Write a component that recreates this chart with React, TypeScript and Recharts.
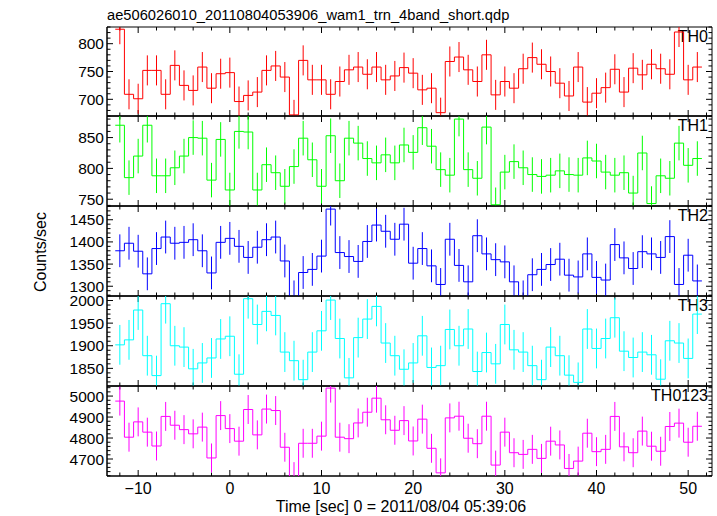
import React from "react";
import { ComposedChart, Line, ErrorBar, XAxis, YAxis, ReferenceArea } from "recharts";

// bin centres, seconds since 05:39:06
const times = [
  -12, -11, -10, -9, -8, -7, -6, -5, -4, -3, -2, -1, 0, 1, 2, 3, 4, 5, 6, 7, 8, 9,
  10, 11, 12, 13, 14, 15, 16, 17, 18, 19, 20, 21, 22, 23, 24, 25, 26, 27, 28, 29,
  30, 31, 32, 33, 34, 35, 36, 37, 38, 39, 40, 41, 42, 43, 44, 45, 46, 47, 48, 49, 50, 51,
];

const th0 = [
  826, 709, 701, 752, 752, 709, 761, 725, 716, 758, 720, 746, 748, 696, 707, 713, 752, 760, 740, 672,
  770, 735, 735, 709, 732, 753, 758, 745, 758, 735,
  742, 757, 747, 717, 720, 676, 768, 776, 753, 732, 780, 708, 732, 720, 755, 775, 763, 750, 729, 706,
  758, 695, 711, 721, 754, 713, 756, 744, 763, 755, 745, 821, 735, 758,
];
const th1 = [
  870, 785, 820, 870, 788, 788, 801, 820, 850, 849, 781, 847, 765, 860, 859, 765, 806, 793, 771, 803,
  849, 814, 771, 853, 780, 849, 841, 816, 809, 822,
  809, 838, 826, 866, 836, 798, 789, 880, 798, 784, 867, 741, 794, 811, 801, 790, 787, 789, 796, 790,
  789, 817, 812, 794, 789, 793, 760, 825, 743, 788, 784, 841, 805, 816,
];
const th2 = [
  1380, 1397, 1379, 1328, 1385, 1411, 1397, 1399, 1405, 1380, 1330, 1399, 1408, 1390, 1365, 1388, 1405, 1411, 1357, 1276,
  1331, 1338, 1368, 1474, 1376, 1367, 1356, 1401, 1438, 1424,
  1406, 1440, 1352, 1385, 1346, 1304, 1406, 1347, 1310, 1414, 1373, 1360, 1355, 1310, 1276, 1326, 1338, 1349, 1361, 1325,
  1321, 1373, 1320, 1314, 1394, 1364, 1340, 1378, 1373, 1365, 1412, 1304, 1370, 1312,
];
const th3 = [
  1902, 1913, 1979, 1878, 1834, 1993, 1900, 1897, 1849, 1862, 1873, 1915, 1921, 1837, 2004, 1947, 1976, 1967, 1886, 1867,
  1825, 1886, 1933, 2001, 1916, 1829, 1918, 1959, 1987, 1906,
  1878, 1848, 1862, 1922, 1852, 1856, 1936, 1900, 1937, 1843, 1885, 1860, 1947, 1891, 1886, 1856, 1825, 1897, 1878, 1835,
  1819, 1937, 1894, 1916, 1962, 1888, 1874, 1886, 1880, 1826, 1911, 1906, 1872, 1970,
];
const th0123 = [
  4976, 4804, 4877, 4828, 4762, 4903, 4861, 4840, 4820, 4852, 4705, 4907, 4845, 4785, 4936, 4815, 4938, 4931, 4756, 4616,
  4775, 4775, 4809, 5038, 4804, 4797, 4872, 4923, 4990, 4887,
  4837, 4883, 4786, 4890, 4751, 4634, 4896, 4904, 4799, 4773, 4904, 4671, 4828, 4730, 4722, 4746, 4703, 4785, 4767, 4655,
  4690, 4823, 4735, 4746, 4903, 4758, 4730, 4833, 4761, 4737, 4855, 4871, 4780, 4856,
];

// 1-sigma error bar half lengths
const th0Err = 27;
const th1Err = 28;
const th2Err = 37;
const th3Err = 44;
const th0123Err = 69;

const xMajorTicks = [-10, 0, 10, 20, 30, 40, 50];
const binWidth = 1;

const FONT = "'Liberation Sans', Arial, Helvetica, sans-serif";
const LEFT = 107;
const RIGHT = 712;
const MT = 12;
const YW = 50;
const X_DOMAIN: [number, number] = [-13.4, 52.6];

const range = (lo: number, hi: number, step: number) => {
  const out: number[] = [];
  for (let v = Math.ceil(lo / step) * step; v <= hi; v += step) out.push(v);
  return out;
};

const panels = [
  { name: "TH0", values: th0, err: th0Err, color: "#ff0000", domain: [670, 830], major: 50, minor: 10, top: 27, bottom: 116 },
  { name: "TH1", values: th1, err: th1Err, color: "#00ff00", domain: [739, 885], major: 50, minor: 10, top: 116, bottom: 206 },
  { name: "TH2", values: th2, err: th2Err, color: "#0000ff", domain: [1278, 1481], major: 50, minor: 10, top: 206, bottom: 296 },
  { name: "TH3", values: th3, err: th3Err, color: "#00ffff", domain: [1811, 2010], major: 50, minor: 10, top: 296, bottom: 386 },
  { name: "TH0123", values: th0123, err: th0123Err, color: "#ff00ff", domain: [4619, 5048], major: 100, minor: 20, top: 386, bottom: 476 },
];

const fmt = (v: number) => (v < 0 ? "\u2212" + -v : String(v));

function Panel({ p, last }: { p: (typeof panels)[number]; last: boolean }) {
  const h = p.bottom - p.top;
  const w = RIGHT - LEFT;
  const mb = last ? 40 : 12;
  const xh = last ? 30 : 1;
  // step line drawn through the bin edges
  const edges = times.map((t, i) => ({ x: t - binWidth / 2, v: p.values[i] }));
  edges.push({ x: times[times.length - 1] + binWidth / 2, v: p.values[p.values.length - 1] });
  const centres = times.map((t, i) => ({ x: t, v: p.values[i], e: p.err }));
  const yTicks = range(p.domain[0], p.domain[1], p.minor);
  const xTicks = range(X_DOMAIN[0], X_DOMAIN[1], 2);

  const yTick = (props: any) => {
    const { y, payload } = props;
    const v = payload.value;
    const isMajor = v % p.major === 0;
    const len = isMajor ? 6 : 3.5;
    return (
      <g>
        <line x1={LEFT} x2={LEFT + len} y1={y} y2={y} stroke="#000" />
        <line x1={RIGHT} x2={RIGHT - len} y1={y} y2={y} stroke="#000" />
        {isMajor && (
          <text x={LEFT - 3} y={y} dominantBaseline="central" textAnchor="end" fontSize={15.5} fontFamily={FONT} fill="#000">
            {v}
          </text>
        )}
      </g>
    );
  };

  const xTick = (props: any) => {
    const { x, payload } = props;
    const v = payload.value;
    const isMajor = xMajorTicks.includes(v);
    const len = isMajor ? 6 : 3.5;
    return (
      <g>
        <line x1={x} x2={x} y1={MT + h} y2={MT + h - len} stroke="#000" />
        <line x1={x} x2={x} y1={MT} y2={MT + len} stroke="#000" />
        {last && isMajor && (
          <text x={x} y={MT + h + 18} textAnchor="middle" fontSize={16} fontFamily={FONT} fill="#000">
            {fmt(v)}
          </text>
        )}
      </g>
    );
  };

  return (
    <>
      {/* frame, ticks and labels */}
      <div style={{ position: "absolute", left: 0, top: p.top - MT }}>
        <ComposedChart
          width={717}
          height={h + MT + mb}
          margin={{ top: MT, bottom: mb - xh, left: LEFT - YW, right: 717 - RIGHT }}
        >
          <XAxis
            dataKey="x"
            type="number"
            domain={X_DOMAIN}
            allowDataOverflow
            ticks={xTicks}
            interval={0}
            height={xh}
            tickSize={0}
            tickMargin={0}
            tickLine={false}
            axisLine={{ stroke: "#000" }}
            tick={xTick}
          />
          <YAxis
            type="number"
            domain={p.domain}
            allowDataOverflow
            ticks={yTicks}
            interval={0}
            width={YW}
            tickSize={0}
            tickMargin={0}
            tickLine={false}
            axisLine={{ stroke: "#000" }}
            tick={yTick}
          />
          <Line data={centres} dataKey="v" stroke="none" dot={false} activeDot={false} isAnimationActive={false} />
          <ReferenceArea
            x1={X_DOMAIN[0]}
            x2={X_DOMAIN[1]}
            y1={p.domain[0]}
            y2={p.domain[1]}
            stroke="#000"
            strokeWidth={1}
            fill="none"
            fillOpacity={0}
          />
        </ComposedChart>
        <div
          style={{
            position: "absolute",
            right: 717 - RIGHT + 4,
            top: MT + 1,
            fontFamily: FONT,
            fontSize: 16,
            color: "#000",
          }}
        >
          {p.name}
        </div>
      </div>
      {/* data, clipped to the plot box */}
      <div style={{ position: "absolute", left: LEFT, top: p.top, width: w, height: h, overflow: "hidden" }}>
        <ComposedChart width={w} height={h} margin={{ top: 0, bottom: 0, left: 0, right: 0 }}>
          <XAxis hide dataKey="x" type="number" domain={X_DOMAIN} allowDataOverflow />
          <YAxis hide type="number" domain={p.domain} allowDataOverflow />
          <Line
            data={edges}
            dataKey="v"
            type="stepAfter"
            stroke={p.color}
            strokeWidth={1}
            dot={false}
            activeDot={false}
            isAnimationActive={false}
          />
          <Line data={centres} dataKey="v" stroke="none" dot={false} activeDot={false} isAnimationActive={false}>
            <ErrorBar dataKey="e" direction="y" width={0} stroke={p.color} strokeWidth={1} isAnimationActive={false} />
          </Line>
        </ComposedChart>
      </div>
    </>
  );
}

export default function App() {
  return (
    <div style={{ position: "absolute", left: 0, top: 0, width: 717, height: 516, background: "#fff" }}>
      {panels.map((p, i) => (
        <Panel key={p.name} p={p} last={i === panels.length - 1} />
      ))}
      <svg width={717} height={516} style={{ position: "absolute", left: 0, top: 0, pointerEvents: "none" }}>
        <text x={LEFT} y={20} fontSize={14.7} fontFamily={FONT} fill="#000">
          ae506026010_20110804053906_wam1_trn_4band_short.qdp
        </text>
        <text
          x={46}
          y={252}
          transform="rotate(-90 46 252)"
          textAnchor="middle"
          fontSize={16}
          fontFamily={FONT}
          fill="#000"
        >
          Counts/sec
        </text>
        <text x={401} y={512} textAnchor="middle" fontSize={16} fontFamily={FONT} fill="#000">
          Time [sec] 0 = 2011/08/04 05:39:06
        </text>
      </svg>
    </div>
  );
}
